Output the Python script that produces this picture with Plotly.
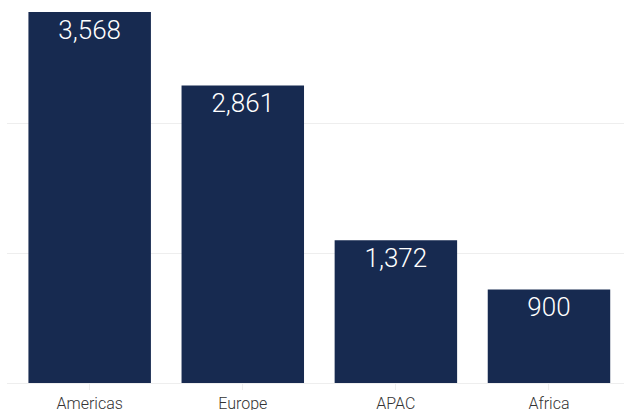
import plotly.graph_objects as go

regions = ["Americas", "Europe", "APAC", "Africa"]
values = [3568, 2861, 1372, 900]
grid_vals = [0, 1250, 2500]

fig = go.Figure(go.Bar(
    x=regions, y=values,
    marker=dict(color="#172a50", line=dict(width=0)),
    text=[f"{v:,}" for v in values],
    textposition="inside", insidetextanchor="end",
    textfont=dict(family="Roboto", size=26, color="white", weight=300),
    width=0.8,
    cliponaxis=False,
))

fig.update_layout(
    width=624, height=410,
    margin=dict(l=7, r=0, t=0, b=27),
    paper_bgcolor="white", plot_bgcolor="white",
    showlegend=False,
    uniformtext=dict(mode=False),
)
fig.update_xaxes(
    range=[-0.54, 3.49], automargin=False,
    showgrid=False, showline=False, zeroline=False,
    ticks="outside", ticklen=6, tickcolor="#eeeeee", tickwidth=1,
    tickfont=dict(family="Roboto", size=16, color="#333333", weight=300),
    ticklabelstandoff=0,
)
fig.update_yaxes(
    range=[0, 3683], automargin=False,
    tickvals=grid_vals, showticklabels=False,
    showgrid=True, gridcolor="#eeeeee", gridwidth=1,
    zeroline=True, zerolinecolor="#eeeeee", zerolinewidth=1,
)

fig.write_html("out.html")
